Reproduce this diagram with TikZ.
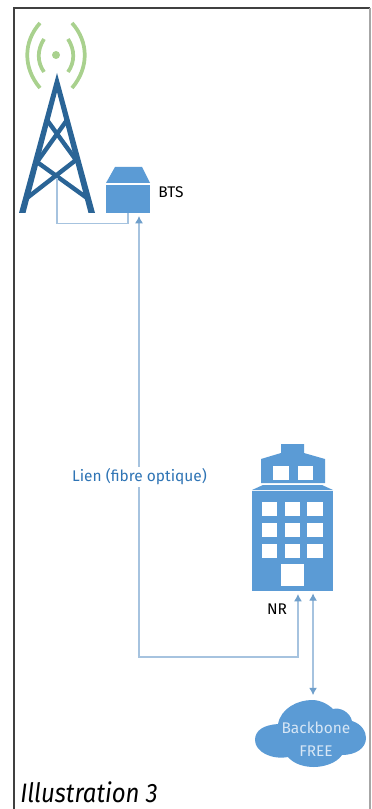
\documentclass[tikz,border=0pt]{standalone}
\usepackage{fontspec}
\setmainfont{Fira Sans}
\newfontfamily\captionfont[FakeStretch=0.9]{Fira Sans}
\usetikzlibrary{arrows.meta,positioning}
\definecolor{iconblue}{HTML}{5B9BD5}
\definecolor{towerblue}{HTML}{2A6496}
\definecolor{wavegreen}{HTML}{A9D18E}
\definecolor{linkblue}{HTML}{A6C3DF}
\definecolor{tipblue}{HTML}{6F9FCB}
\definecolor{labelblue}{HTML}{2E74B5}
\begin{document}
\begin{tikzpicture}[
  x=0.75pt, y=-0.75pt,
  font=\fontsize{11.6}{14}\selectfont,
  node distance=3pt and 5pt,
  icon/.style={fill=iconblue, inner sep=0pt, outer sep=0pt},
  pane/.style={fill=white, inner sep=0pt, outer sep=0pt, minimum width=11.6pt, minimum height=10.5pt},
  tag/.style={inner sep=0pt},
  brace/.style={draw=towerblue, line width=3.3pt},
  wave/.style={draw=wavegreen, line width=2.8pt},
  link/.style={draw=linkblue, line width=0.9pt},
  arrow/.style={link, {Latex[length=5.5pt,width=6pt,color=tipblue]}-{Latex[length=5.5pt,width=6pt,color=tipblue]}}
]
\useasboundingbox (0,0) rectangle (371,809);
\fill[white] (0,0) rectangle (371,809);
% frame
\draw[black!75, line width=0.8pt] (14,809) -- (14,8) -- (370,8);
\draw[black!35, line width=0.8pt] (370,8) -- (370,809);
% antenna
\fill[wavegreen] (56,55) circle (4);
\draw[wave] (44,39) .. controls (37,50) and (37,62) .. (44,72);
\draw[wave] (68,39) .. controls (75,50) and (75,62) .. (68,72);
\draw[wave] (40,23) .. controls (23,42) and (23,68) .. (40,88);
\draw[wave] (72,23) .. controls (89,42) and (89,68) .. (72,88);
\fill[towerblue] (19,213) -- (57,73) -- (95,213) -- (88.5,213) -- (57,92) -- (25.5,213) -- cycle;
\draw[brace] (47,120) -- (76,160) -- (27,198);
\draw[brace] (67,120) -- (37,162) -- (87,198);
\coordinate (towerfoot) at (57,178);
% BTS
\node[icon, minimum width=33pt, minimum height=21.5pt] (bts) at (128,199) {};
\fill[iconblue] (115,167) -- (142,167) -- (150,183) -- (106,183) -- cycle;
\node[tag, right=6pt of bts, yshift=5pt] (btslabel) {BTS};
% NR
\node[icon, minimum width=60.75pt, minimum height=75.5pt] (building) at (292.5,541) {};
\fill[iconblue] (252,490) -- (263,485) -- (322,485) -- (333,490) -- cycle;
\fill[iconblue] (261,483) -- (261,459) -- (281,453) -- (281,444) -- (304,444) -- (304,453) -- (325,459) -- (325,483) -- cycle;
\foreach \px/\py in {281/473,305.5/473,
                     269.5/509,292.5/509,315/509,
                     269.5/529.5,292.5/529.5,315/529.5,
                     269.5/550.5,292.5/550.5,315/550.5}
  \node[pane] at (\px,\py) {};
\node[pane, minimum width=17.25pt, minimum height=16.5pt] (door) at (292.5,575) {};
\node[tag, below=9pt of building, xshift=-11.6pt] (nrlabel) {NR};
% backbone
\fill[iconblue] (255,740) .. controls (255,730) and (264,725) .. (278,724)
  .. controls (281,708) and (298,700) .. (312,700)
  .. controls (320,700) and (328,704) .. (333,709)
  .. controls (340,707) and (350,712) .. (352,721)
  .. controls (362,724) and (366,732) .. (366,738)
  .. controls (366,748) and (356,755) .. (342,755)
  .. controls (336,764) and (322,767) .. (314,767)
  .. controls (304,767) and (294,764) .. (288,757)
  .. controls (272,760) and (255,752) .. (255,740) -- cycle;
\node[tag, minimum height=50pt, align=center, text=white!75!iconblue,
  font=\fontsize{11.6}{17.25}\selectfont] (backbone) at (316,739) {Backbone\\FREE};
% links
\coordinate (fiberbend) at (139,657);
\coordinate (nrport) at ([xshift=15.4pt]building.south);
\draw[link] (towerfoot) |- ([yshift=-7.5pt]bts.south) -- (bts.south);
\draw[arrow, shorten <=2pt, shorten >=2pt] ([xshift=8.25pt]bts.south) -- (fiberbend) -| ([xshift=4.1pt]building.south);
\draw[arrow, shorten <=1.5pt, shorten >=7.7pt] (nrport) -- (nrport |- backbone.north);
\node[text=labelblue, fill=white, inner sep=1pt] (linklabel) at (139.5,477) {Lien (fibre optique)};
\node[anchor=base west, inner sep=0pt, font=\captionfont\itshape\fontsize{20}{20}\selectfont] (caption) at (20,802) {Illustration 3};
\end{tikzpicture}
\end{document}
